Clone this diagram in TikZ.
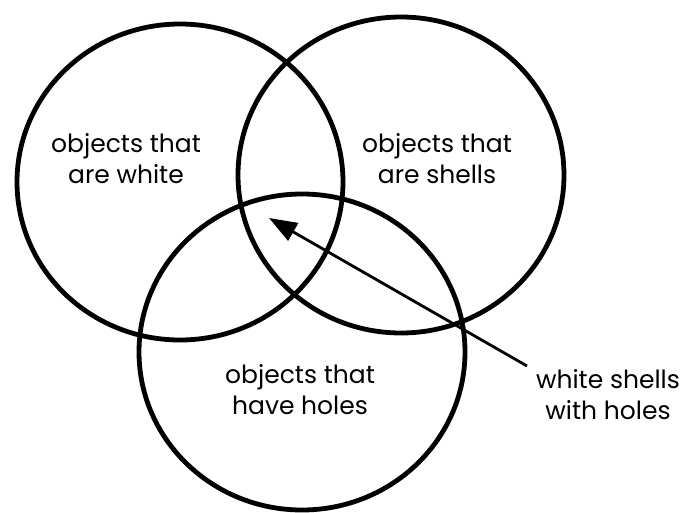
\documentclass[tikz,border=0pt]{standalone}
\usepackage{fontspec}
\setmainfont{Poppins}
\usetikzlibrary{shapes.geometric,arrows.meta}
\tikzset{
  set/.style={draw, ellipse, line width=4.8pt, inner sep=0pt,
    minimum width=326pt, minimum height=316pt},
  lbl/.style={align=center, font=\fontsize{25}{31}\selectfont, inner sep=0pt},
  pointer/.style={line width=2.8pt, -{Triangle[length=28pt,width=20pt]}}
}
\begin{document}
\begin{tikzpicture}[x=1pt,y=-1pt]
\useasboundingbox (0,0) rectangle (683,512);
\node[set] (white) at (180,182) {};
\node[set] (shells) at (401,175) {};
\node[set] (holes) at (302,352) {};
\node[lbl] (twhite) at (126,159) {objects that\\are white};
\node[lbl] (tshells) at (437,159) {objects that\\are shells};
\node[lbl] (tholes) at (300,390) {objects that\\have holes};
\node[lbl] (tall) at (608,395) {white shells\\with holes};
\coordinate (tip) at (269,218);
\coordinate (start) at (527,366);
\draw[pointer] (start) -- (tip);
\end{tikzpicture}
\end{document}
